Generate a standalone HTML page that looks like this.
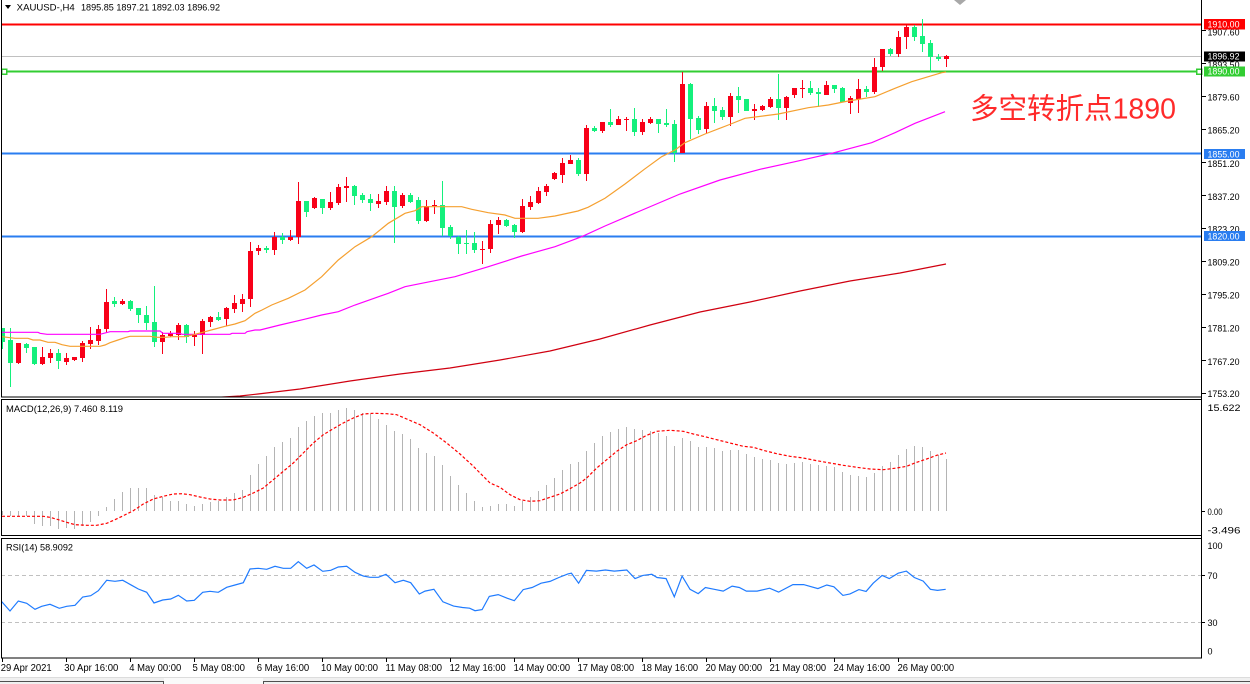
<!DOCTYPE html>
<html><head><meta charset="utf-8"><style>
html,body{margin:0;padding:0;background:#fff;width:1250px;height:684px;overflow:hidden}
svg{display:block}
</style></head><body>
<svg xmlns="http://www.w3.org/2000/svg" width="1250" height="684" viewBox="0 0 1250 684" font-family="'Liberation Sans', sans-serif">
<defs>
<clipPath id="cm"><rect x="2" y="0" width="1199" height="397"/></clipPath>
<clipPath id="cd"><rect x="2" y="400" width="1199" height="135"/></clipPath>
<clipPath id="cr"><rect x="2" y="539" width="1199" height="119"/></clipPath>
</defs>
<rect width="1250" height="684" fill="#fff"/>

<!-- horizontal lines -->
<g shape-rendering="crispEdges">
<rect x="1" y="23.5" width="1201" height="2" fill="#ff0000"/>
<rect x="1" y="56" width="1201" height="1" fill="#c0c0c0"/>
<rect x="1" y="70.5" width="1201" height="2" fill="#32cd32"/>
<rect x="1" y="152.5" width="1201" height="2" fill="#2a7df0"/>
<rect x="1" y="235.5" width="1201" height="2" fill="#2a7df0"/>
<rect x="1.5" y="69" width="5" height="5" fill="#fff" stroke="#32cd32" stroke-width="1.5"/>
<rect x="1196.5" y="69" width="5" height="5" fill="#fff" stroke="#32cd32" stroke-width="1.5"/>
</g>

<!-- candles -->
<g clip-path="url(#cm)" shape-rendering="crispEdges">
<g fill="#f80018">
<rect x="18" y="343" width="1" height="21"/><rect x="16" y="343" width="5" height="20"/>
<rect x="42" y="347" width="1" height="18"/><rect x="40" y="357" width="5" height="7"/>
<rect x="50" y="349" width="1" height="14"/><rect x="48" y="353" width="5" height="5"/>
<rect x="66" y="353" width="1" height="12"/><rect x="64" y="358" width="5" height="4"/>
<rect x="74" y="357" width="1" height="4"/><rect x="72" y="357" width="5" height="3"/>
<rect x="82" y="341" width="1" height="21"/><rect x="80" y="343" width="5" height="15"/>
<rect x="90" y="327" width="1" height="22"/><rect x="88" y="340" width="5" height="4"/>
<rect x="98" y="325" width="1" height="20"/><rect x="96" y="329" width="5" height="12"/>
<rect x="106" y="289" width="1" height="44"/><rect x="104" y="302" width="5" height="27"/>
<rect x="122" y="299" width="1" height="6"/><rect x="120" y="301" width="5" height="3"/>
<rect x="162" y="332" width="1" height="22"/><rect x="160" y="335" width="5" height="7"/>
<rect x="170" y="331" width="1" height="6"/><rect x="168" y="333" width="5" height="3"/>
<rect x="178" y="323" width="1" height="17"/><rect x="176" y="325" width="5" height="10"/>
<rect x="194" y="331" width="1" height="15"/><rect x="192" y="335" width="5" height="2"/>
<rect x="202" y="319" width="1" height="35"/><rect x="200" y="321" width="5" height="14"/>
<rect x="210" y="316" width="1" height="11"/><rect x="208" y="317" width="5" height="5"/>
<rect x="226" y="307" width="1" height="19"/><rect x="224" y="308" width="5" height="11"/>
<rect x="234" y="295" width="1" height="18"/><rect x="232" y="303" width="5" height="6"/>
<rect x="242" y="294" width="1" height="18"/><rect x="240" y="299" width="5" height="5"/>
<rect x="250" y="242" width="1" height="65"/><rect x="248" y="251" width="5" height="48"/>
<rect x="258" y="245" width="1" height="10"/><rect x="256" y="248" width="5" height="3"/>
<rect x="274" y="232" width="1" height="23"/><rect x="272" y="237" width="5" height="13"/>
<rect x="290" y="230" width="1" height="11"/><rect x="288" y="237" width="5" height="3"/>
<rect x="298" y="182" width="1" height="62"/><rect x="296" y="201" width="5" height="36"/>
<rect x="314" y="197" width="1" height="12"/><rect x="312" y="198" width="5" height="10"/>
<rect x="330" y="192" width="1" height="18"/><rect x="328" y="202" width="5" height="6"/>
<rect x="338" y="184" width="1" height="21"/><rect x="336" y="187" width="5" height="16"/>
<rect x="346" y="177" width="1" height="25"/><rect x="344" y="186" width="5" height="2"/>
<rect x="378" y="194" width="1" height="14"/><rect x="376" y="201" width="5" height="3"/>
<rect x="386" y="186" width="1" height="19"/><rect x="384" y="191" width="5" height="11"/>
<rect x="402" y="193" width="1" height="15"/><rect x="400" y="195" width="5" height="11"/>
<rect x="426" y="200" width="1" height="22"/><rect x="424" y="206" width="5" height="15"/>
<rect x="434" y="200" width="1" height="14"/><rect x="432" y="205" width="5" height="1"/>
<rect x="482" y="241" width="1" height="23"/><rect x="480" y="249" width="5" height="1"/>
<rect x="490" y="220" width="1" height="33"/><rect x="488" y="224" width="5" height="25"/>
<rect x="498" y="217" width="1" height="17"/><rect x="496" y="220" width="5" height="5"/>
<rect x="522" y="199" width="1" height="34"/><rect x="520" y="206" width="5" height="26"/>
<rect x="530" y="196" width="1" height="14"/><rect x="528" y="202" width="5" height="5"/>
<rect x="538" y="187" width="1" height="17"/><rect x="536" y="191" width="5" height="12"/>
<rect x="546" y="184" width="1" height="12"/><rect x="544" y="186" width="5" height="6"/>
<rect x="554" y="172" width="1" height="8"/><rect x="552" y="173" width="5" height="6"/>
<rect x="562" y="158" width="1" height="25"/><rect x="560" y="163" width="5" height="12"/>
<rect x="570" y="155" width="1" height="9"/><rect x="568" y="160" width="5" height="4"/>
<rect x="586" y="125" width="1" height="56"/><rect x="584" y="128" width="5" height="46"/>
<rect x="602" y="122" width="1" height="11"/><rect x="600" y="122" width="5" height="9"/>
<rect x="618" y="116" width="1" height="9"/><rect x="616" y="119" width="5" height="6"/>
<rect x="626" y="117" width="1" height="14"/><rect x="624" y="119" width="5" height="1"/>
<rect x="642" y="119" width="1" height="16"/><rect x="640" y="122" width="5" height="10"/>
<rect x="650" y="117" width="1" height="7"/><rect x="648" y="119" width="5" height="4"/>
<rect x="682" y="72" width="1" height="81"/><rect x="680" y="84" width="5" height="69"/>
<rect x="706" y="102" width="1" height="31"/><rect x="704" y="106" width="5" height="23"/>
<rect x="730" y="93" width="1" height="33"/><rect x="728" y="96" width="5" height="21"/>
<rect x="754" y="104" width="1" height="16"/><rect x="752" y="109" width="5" height="2"/>
<rect x="762" y="105" width="1" height="6"/><rect x="760" y="106" width="5" height="4"/>
<rect x="770" y="97" width="1" height="11"/><rect x="768" y="99" width="5" height="8"/>
<rect x="786" y="96" width="1" height="24"/><rect x="784" y="97" width="5" height="11"/>
<rect x="794" y="88" width="1" height="10"/><rect x="792" y="88" width="5" height="7"/>
<rect x="802" y="80" width="1" height="18"/><rect x="800" y="88" width="5" height="1"/>
<rect x="826" y="81" width="1" height="14"/><rect x="824" y="85" width="5" height="10"/>
<rect x="850" y="96" width="1" height="18"/><rect x="848" y="98" width="5" height="5"/>
<rect x="858" y="79" width="1" height="34"/><rect x="856" y="89" width="5" height="10"/>
<rect x="874" y="58" width="1" height="36"/><rect x="872" y="67" width="5" height="25"/>
<rect x="882" y="49" width="1" height="22"/><rect x="880" y="49" width="5" height="18"/>
<rect x="898" y="31" width="1" height="26"/><rect x="896" y="37" width="5" height="17"/>
<rect x="906" y="25" width="1" height="24"/><rect x="904" y="27" width="5" height="10"/>
<rect x="946" y="55" width="1" height="12"/><rect x="944" y="56" width="5" height="3"/>
</g>
<g fill="#14f07c">
<rect x="2" y="328" width="1" height="21"/><rect x="0" y="328" width="5" height="14"/>
<rect x="10" y="328" width="1" height="59"/><rect x="8" y="340" width="5" height="23"/>
<rect x="26" y="343" width="1" height="10"/><rect x="24" y="344" width="5" height="4"/>
<rect x="34" y="347" width="1" height="18"/><rect x="32" y="347" width="5" height="17"/>
<rect x="58" y="349" width="1" height="20"/><rect x="56" y="353" width="5" height="8"/>
<rect x="114" y="297" width="1" height="10"/><rect x="112" y="301" width="5" height="3"/>
<rect x="130" y="300" width="1" height="11"/><rect x="128" y="301" width="5" height="8"/>
<rect x="138" y="308" width="1" height="15"/><rect x="136" y="308" width="5" height="7"/>
<rect x="146" y="306" width="1" height="24"/><rect x="144" y="315" width="5" height="8"/>
<rect x="154" y="286" width="1" height="61"/><rect x="152" y="322" width="5" height="20"/>
<rect x="186" y="324" width="1" height="19"/><rect x="184" y="325" width="5" height="12"/>
<rect x="218" y="312" width="1" height="9"/><rect x="216" y="317" width="5" height="3"/>
<rect x="266" y="246" width="1" height="7"/><rect x="264" y="248" width="5" height="2"/>
<rect x="282" y="233" width="1" height="11"/><rect x="280" y="237" width="5" height="3"/>
<rect x="306" y="201" width="1" height="16"/><rect x="304" y="201" width="5" height="11"/>
<rect x="322" y="199" width="1" height="15"/><rect x="320" y="199" width="5" height="9"/>
<rect x="354" y="185" width="1" height="20"/><rect x="352" y="186" width="5" height="10"/>
<rect x="362" y="193" width="1" height="10"/><rect x="360" y="195" width="5" height="5"/>
<rect x="370" y="194" width="1" height="17"/><rect x="368" y="199" width="5" height="4"/>
<rect x="394" y="186" width="1" height="57"/><rect x="392" y="191" width="5" height="16"/>
<rect x="410" y="193" width="1" height="10"/><rect x="408" y="195" width="5" height="7"/>
<rect x="418" y="197" width="1" height="27"/><rect x="416" y="200" width="5" height="21"/>
<rect x="442" y="181" width="1" height="55"/><rect x="440" y="205" width="5" height="23"/>
<rect x="450" y="225" width="1" height="14"/><rect x="448" y="227" width="5" height="9"/>
<rect x="458" y="236" width="1" height="18"/><rect x="456" y="237" width="5" height="7"/>
<rect x="466" y="230" width="1" height="24"/><rect x="464" y="243" width="5" height="1"/>
<rect x="474" y="232" width="1" height="21"/><rect x="472" y="243" width="5" height="7"/>
<rect x="506" y="219" width="1" height="8"/><rect x="504" y="220" width="5" height="6"/>
<rect x="514" y="224" width="1" height="14"/><rect x="512" y="225" width="5" height="7"/>
<rect x="578" y="158" width="1" height="18"/><rect x="576" y="160" width="5" height="14"/>
<rect x="594" y="126" width="1" height="6"/><rect x="592" y="128" width="5" height="3"/>
<rect x="610" y="109" width="1" height="18"/><rect x="608" y="122" width="5" height="3"/>
<rect x="634" y="108" width="1" height="28"/><rect x="632" y="119" width="5" height="13"/>
<rect x="658" y="119" width="1" height="14"/><rect x="656" y="119" width="5" height="5"/>
<rect x="666" y="109" width="1" height="18"/><rect x="664" y="123" width="5" height="2"/>
<rect x="674" y="120" width="1" height="42"/><rect x="672" y="124" width="5" height="29"/>
<rect x="690" y="83" width="1" height="56"/><rect x="688" y="84" width="5" height="35"/>
<rect x="698" y="116" width="1" height="18"/><rect x="696" y="118" width="5" height="12"/>
<rect x="714" y="98" width="1" height="25"/><rect x="712" y="106" width="5" height="5"/>
<rect x="722" y="107" width="1" height="13"/><rect x="720" y="110" width="5" height="7"/>
<rect x="738" y="87" width="1" height="26"/><rect x="736" y="96" width="5" height="4"/>
<rect x="746" y="99" width="1" height="12"/><rect x="744" y="99" width="5" height="12"/>
<rect x="778" y="74" width="1" height="46"/><rect x="776" y="99" width="5" height="9"/>
<rect x="810" y="81" width="1" height="14"/><rect x="808" y="88" width="5" height="5"/>
<rect x="818" y="88" width="1" height="19"/><rect x="816" y="92" width="5" height="2"/>
<rect x="834" y="85" width="1" height="8"/><rect x="832" y="85" width="5" height="4"/>
<rect x="842" y="87" width="1" height="15"/><rect x="840" y="88" width="5" height="14"/>
<rect x="866" y="86" width="1" height="11"/><rect x="864" y="89" width="5" height="3"/>
<rect x="890" y="48" width="1" height="8"/><rect x="888" y="49" width="5" height="5"/>
<rect x="914" y="25" width="1" height="16"/><rect x="912" y="27" width="5" height="10"/>
<rect x="922" y="19" width="1" height="33"/><rect x="920" y="36" width="5" height="8"/>
<rect x="930" y="40" width="1" height="32"/><rect x="928" y="43" width="5" height="14"/>
<rect x="938" y="54" width="1" height="7"/><rect x="936" y="57" width="5" height="2"/>
</g>
</g>

<!-- moving averages -->
<g clip-path="url(#cm)" fill="none" stroke-width="1.2">
<polyline stroke="#d00010" points="215,397.5 240,396 258,394 300,389 350,381 400,374 450,368 500,360 550,351 600,339 650,325 700,312 750,302 800,291 850,281 900,273 946,264"/>
<polyline stroke="#ff00ff" points="2,332.3 38,332.3 40,333.3 47,334.3 100,334.3 110,331.7 128,331.7 130,331 160,331 163,333.3 180,333.3 182,334.3 230,334.3 232,333.3 245,333.3 247,331.7 255,330 260,330 280,325 304.3,319.3 321.7,315 338.3,311.7 355,305 388.3,293.3 405,286.7 421.7,283.3 455,276.7 488.3,266.7 521.7,256 555,246.7 581.7,236.7 605,226 640,211 680,194 720,180 760,169.3 795,161.7 831.7,153.3 871.7,142.7 895,132.7 915,123.3 945,111.7"/>
<polyline stroke="#f5a030" points="2,336.7 15,338.3 28,338.3 33,340 40,340 48,342.3 55,342.3 62,344.7 70,346.3 100,346.3 105,345 110,342.7 118,340 125,337.7 130,336.3 150,336.3 157,337.3 165,337.3 172,336.7 185,336.7 195,334.3 205,331.7 215,329 225,326.3 235,324 245,320.7 250,317 255,313.3 262,310 271.7,305 288.3,298.3 305,290 321.7,276.7 338.3,260 355,246.7 371.7,236.7 388.3,223.3 405,213.3 415,210.7 421.7,206.7 461.7,206.7 471.7,209.3 488.3,212.7 505,215 515,218.3 538,218.3 555,216 578,211 588,207.3 605,198.3 625,184 644.3,169.3 661.7,156.7 675,150 685,142.7 705,134 728.3,125 745,118.3 778.3,114 808.3,107.7 828.3,105 848.3,101 875,96.7 895,88.3 911.7,81.7 928.3,76.7 941.7,72.7 946,72"/>
</g>

<!-- chart shift marker -->
<polygon points="954,0 966,0 960,5" fill="#a8a8a8"/>

<!-- Title -->
<polygon points="5,5 11,5 8,9" fill="#000"/>
<text x="16.7" y="10.7" font-size="9.5" fill="#000" textLength="58" lengthAdjust="spacingAndGlyphs">XAUUSD-,H4</text>
<text x="81" y="10.7" font-size="9.5" fill="#000" textLength="139" lengthAdjust="spacingAndGlyphs">1895.85 1897.21 1892.03 1896.92</text>

<!-- Chinese annotation -->
<text x="970" y="118.5" font-size="29" fill="#ff2a2a" font-family="'Liberation Sans','Noto Sans CJK SC',sans-serif" textLength="206" lengthAdjust="spacingAndGlyphs">多空转折点1890</text>

<!-- MACD -->
<g clip-path="url(#cd)">
<path stroke="#b4b4b4" stroke-width="1" fill="none" shape-rendering="crispEdges" d="M2.5 511V515M10.5 511V516M18.5 511V516M26.5 511V516M34.5 511V524M42.5 511V526M50.5 511V526M58.5 511V529M66.5 511V528M74.5 511V529M82.5 511V526M90.5 511V522M98.5 511V516M106.5 511V507M114.5 511V499M122.5 511V492M130.5 511V488M138.5 511V488M146.5 511V488M154.5 511V495M162.5 511V497M170.5 511V501M178.5 511V501M186.5 511V504M194.5 511V506M202.5 511V504M210.5 511V502M218.5 511V501M226.5 511V497M234.5 511V493M242.5 511V490M250.5 511V475M258.5 511V464M266.5 511V456M274.5 511V447M282.5 511V442M290.5 511V438M298.5 511V427M306.5 511V421M314.5 511V416M322.5 511V413M330.5 511V413M338.5 511V410M346.5 511V408M354.5 511V410M362.5 511V413M370.5 511V414M378.5 511V419M386.5 511V425M394.5 511V431M402.5 511V434M410.5 511V439M418.5 511V448M426.5 511V453M434.5 511V456M442.5 511V465M450.5 511V476M458.5 511V485M466.5 511V493M474.5 511V501M482.5 511V507M490.5 511V506M498.5 511V504M506.5 511V504M514.5 511V506M522.5 511V501M530.5 511V497M538.5 511V491M546.5 511V485M554.5 511V478M562.5 511V470M570.5 511V464M578.5 511V462M586.5 511V451M594.5 511V443M602.5 511V436M610.5 511V432M618.5 511V429M626.5 511V427M634.5 511V429M642.5 511V430M650.5 511V431M658.5 511V433M666.5 511V436M674.5 511V446M682.5 511V438M690.5 511V441M698.5 511V447M706.5 511V447M714.5 511V448M722.5 511V451M730.5 511V450M738.5 511V450M746.5 511V454M754.5 511V457M762.5 511V459M770.5 511V460M778.5 511V463M786.5 511V464M794.5 511V463M802.5 511V462M810.5 511V464M818.5 511V465M826.5 511V466M834.5 511V467M842.5 511V472M850.5 511V475M858.5 511V476M866.5 511V477M874.5 511V473M882.5 511V466M890.5 511V462M898.5 511V455M906.5 511V449M914.5 511V446M922.5 511V447M930.5 511V451M938.5 511V455M946.5 511V459"/>
<polyline fill="none" stroke="#ff0000" stroke-width="1.2" stroke-dasharray="3 2" points="2,516.3 43.3,516.3 50,517.3 58.3,519.7 66.7,522.3 75,524.7 86.7,525.3 96.7,525.3 106.7,523.3 115,519.7 123.3,515.7 133.3,510.7 143.3,504 153.3,499 163.3,496.3 173.3,494 181.7,493.7 190,494.7 200,497 210,499 220,500 233.3,500 243.3,497.3 253.3,493 263.3,488 273.3,479.7 283.3,471.3 293.3,463 303.3,453 313.3,443 323.3,434.7 333.3,428.7 343.3,423 353.3,418 363.3,414 373.3,413.3 386.7,413.7 396.7,414.7 406.7,419 420,424.7 433.3,433 446.7,443 460,454 471.7,464.7 480,473 490,483 500,487.3 510,494.7 520,499.7 530,501.3 540,500.7 550,497.3 560,494 570,488.7 580,483 586.7,478 596.7,468 606.7,459.7 616.7,451.3 626.7,444.7 636.7,440.7 646.7,435.3 656.7,431.3 670,430.3 683.3,431.3 693.3,434 703.3,436.3 716.7,439.7 730,443 743.3,446.3 753.3,447.3 763.3,450.3 776.7,453.7 790,456.3 803.3,458 816.7,460.7 830,463 843.3,465.3 856.7,467.3 870,469 883.3,469.7 896.7,468 906.7,466.3 916.7,462.3 926.7,459 936.7,455.3 946,453"/>
</g>
<text x="6" y="412" font-size="9.5" fill="#000" textLength="117" lengthAdjust="spacingAndGlyphs">MACD(12,26,9) 7.460 8.119</text>

<!-- RSI -->
<g clip-path="url(#cr)">
<line x1="1" y1="575.5" x2="1202" y2="575.5" stroke="#c0c0c0" stroke-width="1" stroke-dasharray="4 3" shape-rendering="crispEdges"/>
<line x1="1" y1="622.5" x2="1202" y2="622.5" stroke="#c0c0c0" stroke-width="1" stroke-dasharray="4 3" shape-rendering="crispEdges"/>
<polyline fill="none" stroke="#1f7bff" stroke-width="1.2" points="1.7,601.7 10,611 18.3,601 26.7,603.3 35,609.3 41.7,606.3 50,604.3 59.3,608.3 66.7,606.3 75,605.3 82.7,597 90.7,595.7 98.3,590.7 106.7,580.3 115,581.3 122.7,580.3 131.7,585.3 138.3,589 146.7,592.3 154,603 162.7,600 170.7,599 178.3,595.3 186.7,601 194.3,600.3 202.7,592.3 210,591.3 218.3,592.3 226.7,587.3 235,585 243.3,582.7 250,569 258.3,568.3 266.7,569.3 275,566.3 283.3,568.3 290.7,568.3 298.3,561.7 306.7,568.3 314,565 322.7,571.3 330.7,570.3 338.3,567 346.7,566.3 355,572.3 363.3,576 370,577.3 378.3,577.3 386,574.3 395,582.7 403.3,580.3 410.7,582.7 419.3,594 425,591.1 433.9,589.3 442.9,601.8 453.6,606.1 462.5,607.5 469.6,608.2 475,610.7 482.1,609.6 489.3,596.4 498.2,594.6 507.1,598.2 514.3,600.7 523.2,589.6 532.1,587.5 541.1,583.2 550,581.4 558.9,577.5 567.9,573.9 571.4,573.2 578.6,583.2 586.4,570.4 596.4,571.1 605.4,570 614.3,571.1 626.8,570 635,578.6 642.9,575.4 651.8,574.3 657.1,577.5 666.1,578.6 674.3,596.8 682.1,576.1 690,589.3 698.2,593.6 705.4,587.5 714.3,589.3 723.2,591.1 732.1,586.1 739.3,587.5 746.4,591.1 757.1,591.1 769.6,588.2 778.6,592.1 792.9,584.6 803.6,584.6 817.9,588.6 826.8,585 833.9,586.8 842.9,595.4 850,593.9 858.9,589.6 866.1,591.4 873.2,583.2 882.1,575.4 889.3,578.6 898.2,573.2 906.4,571.1 914.3,577.5 923.2,581.1 930.4,589.3 937.5,590.4 945.7,589.3"/>
</g>
<text x="6" y="550.7" font-size="9.5" fill="#000" textLength="67" lengthAdjust="spacingAndGlyphs">RSI(14) 58.9092</text>

<!-- panel borders -->
<g fill="none" stroke="#000" stroke-width="1" shape-rendering="crispEdges">
<rect x="1.5" y="-1" width="1200" height="398"/>
<rect x="1.5" y="399.5" width="1200" height="136"/>
<rect x="1.5" y="538.5" width="1200" height="119.5"/>
<line x1="1201.5" y1="0" x2="1201.5" y2="658"/>
<path d="M1202 30.5h4M1202 63.5h4M1202 96.5h4M1202 129.5h4M1202 162.5h4M1202 195.5h4M1202 228.5h4M1202 261.5h4M1202 294.5h4M1202 327.5h4M1202 360.5h4M1202 393.5h4M1202 511.5h3M1202 575.5h3M1202 622.5h3"/>
<path d="M2.5 658v4M66.5 658v4M130.5 658v4M194.5 658v4M258.5 658v4M322.5 658v4M386.5 658v4M450.5 658v4M514.5 658v4M578.5 658v4M642.5 658v4M706.5 658v4M770.5 658v4M834.5 658v4M898.5 658v4"/>
</g>

<!-- price axis labels -->
<g font-size="9" fill="#000">
<text x="1207.5" y="35.6" textLength="32" lengthAdjust="spacingAndGlyphs">1907.60</text>
<text x="1207.5" y="67.8" textLength="32" lengthAdjust="spacingAndGlyphs">1893.50</text>
<text x="1207.5" y="100.6" textLength="32" lengthAdjust="spacingAndGlyphs">1879.60</text>
<text x="1207.5" y="133.6" textLength="32" lengthAdjust="spacingAndGlyphs">1865.20</text>
<text x="1207.5" y="166.8" textLength="32" lengthAdjust="spacingAndGlyphs">1851.20</text>
<text x="1207.5" y="199.8" textLength="32" lengthAdjust="spacingAndGlyphs">1837.20</text>
<text x="1207.5" y="232.6" textLength="32" lengthAdjust="spacingAndGlyphs">1823.20</text>
<text x="1207.5" y="265.6" textLength="32" lengthAdjust="spacingAndGlyphs">1809.20</text>
<text x="1207.5" y="298.6" textLength="32" lengthAdjust="spacingAndGlyphs">1795.20</text>
<text x="1207.5" y="331.6" textLength="32" lengthAdjust="spacingAndGlyphs">1781.20</text>
<text x="1207.5" y="365" textLength="32" lengthAdjust="spacingAndGlyphs">1767.20</text>
<text x="1207.5" y="396.8" textLength="32" lengthAdjust="spacingAndGlyphs">1753.20</text>
<text x="1207.5" y="411" textLength="33" lengthAdjust="spacingAndGlyphs">15.622</text>
<text x="1207.5" y="515" textLength="15" lengthAdjust="spacingAndGlyphs">0.00</text>
<text x="1207.5" y="533.3" textLength="33" lengthAdjust="spacingAndGlyphs">-3.496</text>
<text x="1207.5" y="549">100</text>
<text x="1207.5" y="579">70</text>
<text x="1207.5" y="626">30</text>
<text x="1207.5" y="654.3">0</text>
</g>

<!-- colored price labels -->
<g shape-rendering="crispEdges">
<rect x="1204" y="19" width="41" height="10.5" fill="#ff0000"/>
<rect x="1204" y="51.5" width="41" height="10" fill="#000"/>
<rect x="1204" y="66.5" width="41" height="10" fill="#32cd32"/>
<rect x="1204" y="149" width="41" height="10" fill="#2a7df0"/>
<rect x="1204" y="231" width="41" height="10" fill="#2a7df0"/>
</g>
<g font-size="9" fill="#fff">
<text x="1207.5" y="27.6" textLength="32" lengthAdjust="spacingAndGlyphs">1910.00</text>
<text x="1207.5" y="59.6" textLength="32" lengthAdjust="spacingAndGlyphs">1896.92</text>
<text x="1207.5" y="74.6" textLength="32" lengthAdjust="spacingAndGlyphs">1890.00</text>
<text x="1207.5" y="157.3" textLength="32" lengthAdjust="spacingAndGlyphs">1855.00</text>
<text x="1207.5" y="239.3" textLength="32" lengthAdjust="spacingAndGlyphs">1820.00</text>
</g>

<!-- time axis -->
<g font-size="10" fill="#000">
<text x="0.7" y="671" textLength="51" lengthAdjust="spacingAndGlyphs">29 Apr 2021</text>
<text x="64.3" y="671" textLength="54" lengthAdjust="spacingAndGlyphs">30 Apr 16:00</text>
<text x="129.3" y="671" textLength="52" lengthAdjust="spacingAndGlyphs">4 May 00:00</text>
<text x="192.5" y="671" textLength="52.5" lengthAdjust="spacingAndGlyphs">5 May 08:00</text>
<text x="256.7" y="671" textLength="52.5" lengthAdjust="spacingAndGlyphs">6 May 16:00</text>
<text x="321" y="671" textLength="57" lengthAdjust="spacingAndGlyphs">10 May 00:00</text>
<text x="385.5" y="671" textLength="56.5" lengthAdjust="spacingAndGlyphs">11 May 08:00</text>
<text x="449.6" y="671" textLength="56" lengthAdjust="spacingAndGlyphs">12 May 16:00</text>
<text x="513.6" y="671" textLength="56.5" lengthAdjust="spacingAndGlyphs">14 May 00:00</text>
<text x="577.6" y="671" textLength="56.5" lengthAdjust="spacingAndGlyphs">17 May 08:00</text>
<text x="641.6" y="671" textLength="56.5" lengthAdjust="spacingAndGlyphs">18 May 16:00</text>
<text x="705.6" y="671" textLength="56.5" lengthAdjust="spacingAndGlyphs">20 May 00:00</text>
<text x="769.6" y="671" textLength="56.5" lengthAdjust="spacingAndGlyphs">21 May 08:00</text>
<text x="833.6" y="671" textLength="56.5" lengthAdjust="spacingAndGlyphs">24 May 16:00</text>
<text x="897.6" y="671" textLength="56.5" lengthAdjust="spacingAndGlyphs">26 May 00:00</text>
</g>

<!-- bottom tab bar -->
<g shape-rendering="crispEdges">
<rect x="0" y="678" width="1250" height="6" fill="#f0f0f0"/>
<rect x="0" y="677" width="1250" height="1" fill="#dcdcdc"/>
<rect x="0" y="681" width="164" height="1" fill="#505050"/>
<rect x="263" y="681" width="987" height="1" fill="#505050"/>
<rect x="163" y="681" width="1" height="3" fill="#505050"/>
<rect x="263" y="681" width="1" height="3" fill="#505050"/>
<rect x="164" y="678" width="99" height="6" fill="#fafafa"/>
</g>
</svg>
</body></html>
